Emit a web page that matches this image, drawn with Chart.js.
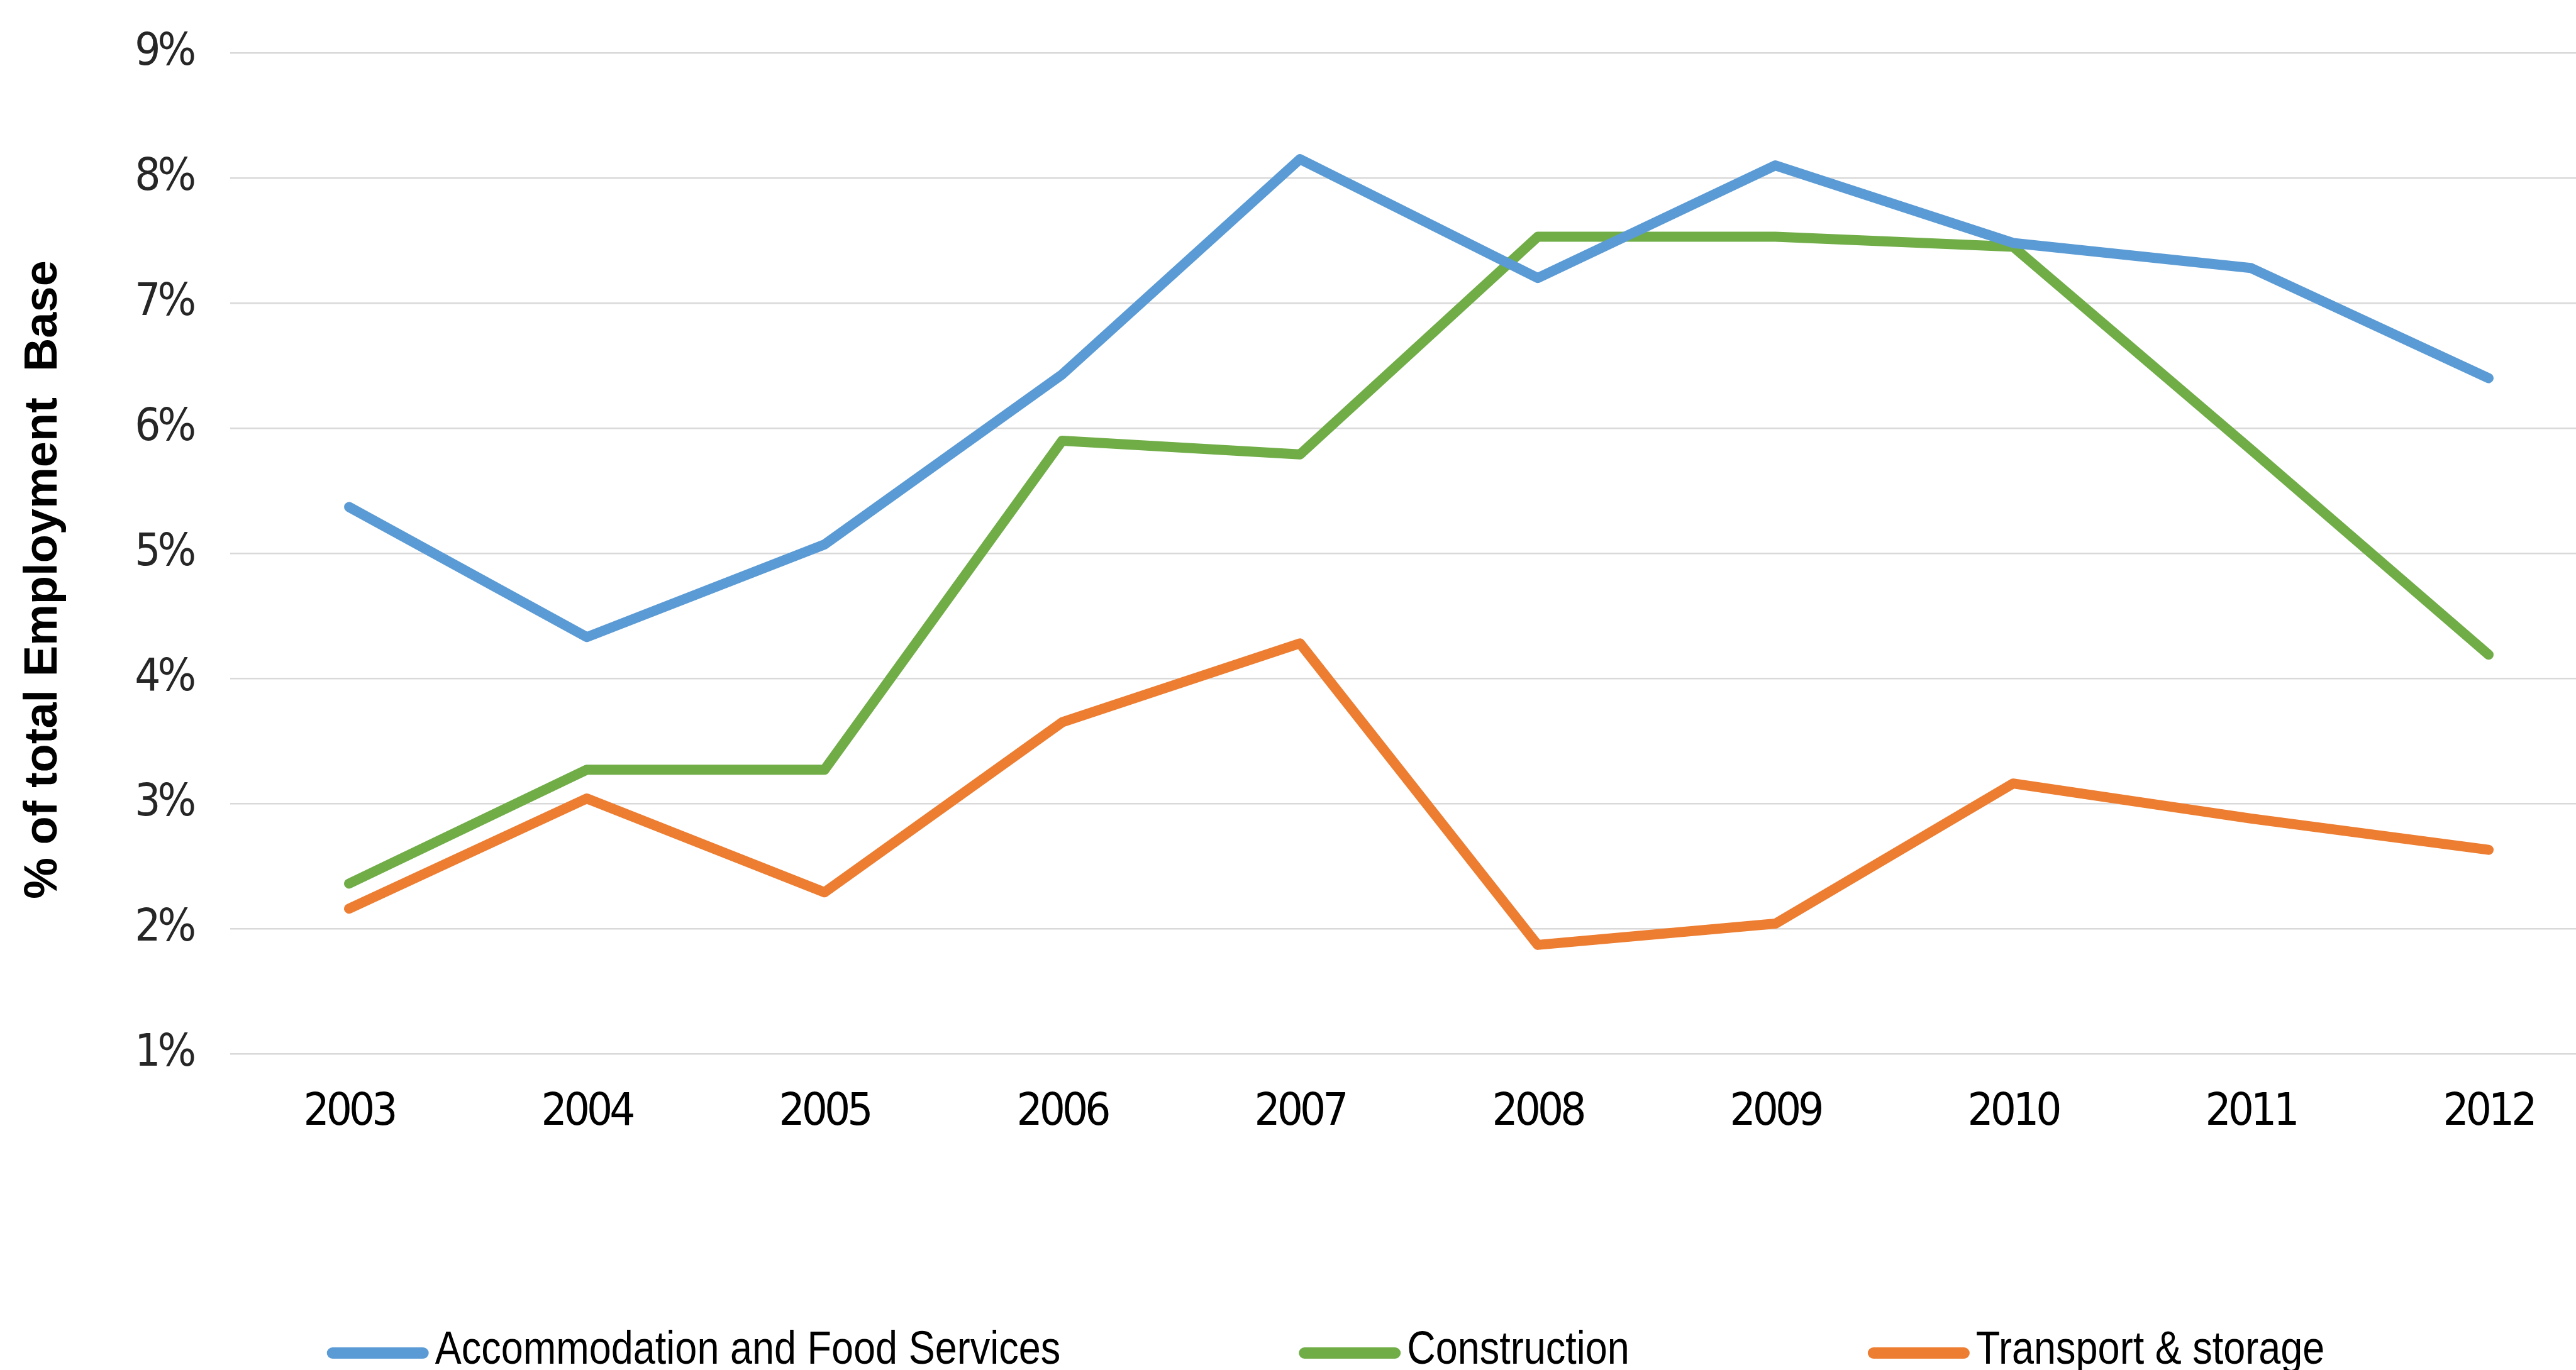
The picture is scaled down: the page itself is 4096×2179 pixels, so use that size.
<!DOCTYPE html>
<html>
<head>
<meta charset="utf-8">
<script src="https://cdn.jsdelivr.net/npm/chart.js@4/dist/chart.umd.min.js"></script>
<style>
  html, body { margin: 0; padding: 0; background: #fff; overflow: hidden; }
  #wrap { position: relative; width: 4216px; height: 2179px; }
</style>
</head>
<body>
<div id="wrap"><canvas id="chart"></canvas></div>
<script>
const years = ['2003', '2004', '2005', '2006', '2007', '2008', '2009', '2010', '2011', '2012'];
const accommodation = [5.37, 4.33, 5.07, 6.43, 8.15, 7.20, 8.10, 7.48, 7.28, 6.40];
const construction = [2.36, 3.27, 3.27, 5.90, 5.79, 7.53, 7.53, 7.45, 5.83, 4.19];
const transport = [2.16, 3.04, 2.29, 3.65, 4.28, 1.87, 2.04, 3.16, 2.88, 2.63];
const seriesNames = ['Accommodation and Food Services', 'Construction', 'Transport & storage'];
const seriesColors = ['#5B9BD5', '#70AD47', '#ED7D31'];
const yTitle = '% of total Employment  Base';

const tickFamily = "'DejaVu Sans Condensed', 'DejaVu Sans', sans-serif";

// tighter letters for the tick labels (canvas state is reset on resize, so set it each pass)
const tightText = {
  id: 'tightText',
  beforeLayout(chart) { chart.ctx.letterSpacing = '-5px'; },
  beforeDraw(chart) { chart.ctx.letterSpacing = '-5px'; },
  afterDraw(chart) { chart.ctx.letterSpacing = '0px'; }
};

// y title drawn apart so it keeps normal letter spacing
const sideTitle = {
  id: 'sideTitle',
  afterDraw(chart) {
    const ctx = chart.ctx;
    ctx.save();
    ctx.letterSpacing = '0px';
    ctx.translate(70, 922);
    ctx.rotate(-Math.PI / 2);
    ctx.font = "bold 74px 'Liberation Sans', Arial, sans-serif";
    ctx.fillStyle = '#000';
    ctx.textAlign = 'center';
    ctx.textBaseline = 'middle';
    ctx.fillText(yTitle, 0, 0);
    ctx.restore();
  }
};

// legend drawn by hand: line sample, short gap, narrow label, wide spacing
const bottomLegend = {
  id: 'bottomLegend',
  afterDraw(chart) {
    const ctx = chart.ctx;
    const sample = 162, gap = 10, spacing = 379, y = 2148, squeeze = 0.84;
    ctx.save();
    ctx.letterSpacing = '0px';
    ctx.font = "75px 'Liberation Sans', Arial, sans-serif";
    const items = chart.data.datasets.map(ds => ({
      text: ds.label, color: ds.borderColor, w: ctx.measureText(ds.label).width * squeeze
    }));
    let total = 0;
    items.forEach((it, i) => { total += sample + gap + it.w + (i > 0 ? spacing : 0); });
    let x = chart.width / 2 - total / 2;
    items.forEach(it => {
      ctx.strokeStyle = it.color;
      ctx.lineWidth = 18;
      ctx.lineCap = 'round';
      ctx.beginPath();
      ctx.moveTo(x + 9, y + 4);
      ctx.lineTo(x + sample - 9, y + 4);
      ctx.stroke();
      ctx.save();
      ctx.translate(x + sample + gap, y);
      ctx.scale(squeeze, 1);
      ctx.fillStyle = '#000';
      ctx.textBaseline = 'middle';
      ctx.textAlign = 'left';
      ctx.fillText(it.text, 0, 0);
      ctx.restore();
      x += sample + gap + it.w + spacing;
    });
    ctx.restore();
  }
};

function makeSet(label, data, color) {
  return {
    label: label,
    data: data,
    borderColor: color,
    backgroundColor: color,
    borderWidth: 16,
    borderCapStyle: 'round',
    borderJoinStyle: 'round',
    pointRadius: 0,
    tension: 0,
    fill: false
  };
}

new Chart(document.getElementById('chart'), {
  type: 'line',
  data: {
    labels: years,
    datasets: [
      makeSet(seriesNames[0], accommodation, seriesColors[0]),
      makeSet(seriesNames[1], construction, seriesColors[1]),
      makeSet(seriesNames[2], transport, seriesColors[2])
    ]
  },
  options: {
    responsive: true,
    maintainAspectRatio: false,
    animation: false,
    layout: { padding: { left: 10, top: 84, right: 70, bottom: 372 } },
    plugins: {
      legend: { display: false },
      tooltip: { enabled: false }
    },
    scales: {
      x: {
        offset: true,
        grid: { display: false, drawTicks: false },
        border: { display: false },
        ticks: { padding: 51, color: '#000', font: { family: tickFamily, size: 72 } },
        afterFit(axis) { axis.height = 131; }
      },
      y: {
        min: 1,
        max: 9,
        grid: { color: '#D9D9D9', lineWidth: 2.5, drawTicks: false },
        border: { display: false },
        ticks: {
          stepSize: 1,
          padding: 59,
          color: '#262626',
          font: { family: tickFamily, size: 72 },
          callback: v => v + '%'
        },
        afterFit(axis) {
          axis.width = 356;
          axis.paddingTop = 20;
          axis.paddingBottom = 20;
        }
      }
    }
  },
  plugins: [tightText, sideTitle, bottomLegend]
});
</script>
</body>
</html>
